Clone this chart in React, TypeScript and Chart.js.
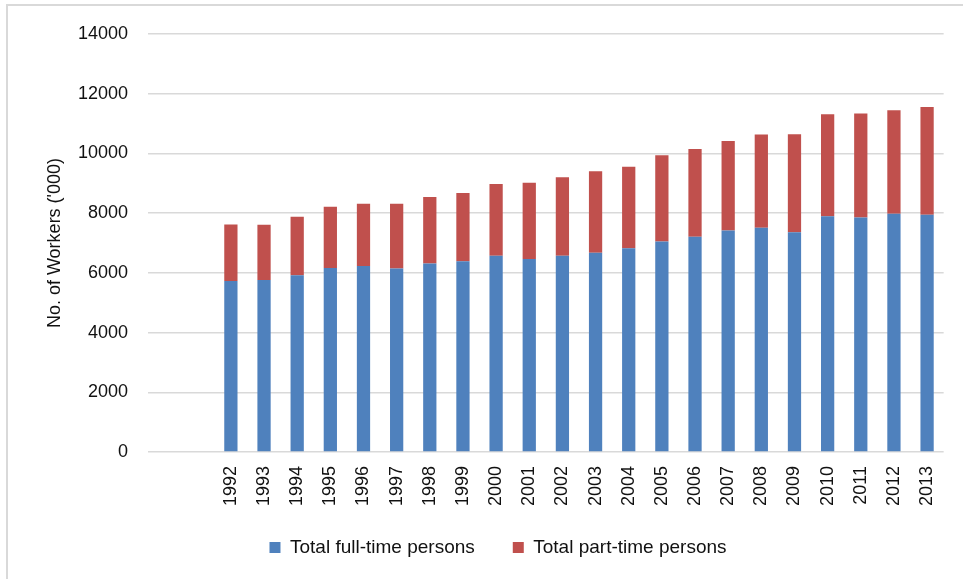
import React, { useEffect, useRef } from "react";
import { Chart, registerables } from "chart.js";

Chart.register(...registerables);

const categories = [
  "", "",
  "1992", "1993", "1994", "1995", "1996", "1997", "1998", "1999", "2000", "2001",
  "2002", "2003", "2004", "2005", "2006", "2007", "2008", "2009", "2010", "2011",
  "2012", "2013",
];

const fullTime = [
  null, null,
  5730, 5763, 5918, 6166, 6233, 6143, 6311, 6389, 6569, 6468,
  6569, 6670, 6826, 7049, 7206, 7418, 7509, 7362, 7899, 7855,
  7979, 7946,
];

const partTime = [
  null, null,
  1890, 1847, 1960, 2048, 2082, 2172, 2226, 2282, 2404, 2552,
  2629, 2729, 2730, 2887, 2942, 2999, 3122, 3279, 3414, 3481,
  3468, 3612,
];

const seriesNames = ["Total full-time persons", "Total part-time persons"];
const yTicks = { min: 0, max: 14000, step: 2000 };
const yTitle = "No. of Workers ('000)";

const FONT = "'Liberation Sans', Arial, sans-serif";

const legendShift = {
  id: "legendShift",
  afterLayout(chart: any) {
    const lg = chart.legend;
    if (lg) {
      lg.top -= 10;
      lg.bottom -= 10;
    }
  },
};

export default function App() {
  const ref = useRef<HTMLCanvasElement | null>(null);

  useEffect(() => {
    if (!ref.current) return;
    const chart = new Chart(ref.current, {
      type: "bar",
      data: {
        labels: categories,
        datasets: [
          {
            label: seriesNames[0],
            data: fullTime,
            backgroundColor: "#4F81BD",
            borderWidth: 0,
            categoryPercentage: 0.4,
            barPercentage: 1,
          },
          {
            label: seriesNames[1],
            data: partTime,
            backgroundColor: "#C0504D",
            borderWidth: 0,
            categoryPercentage: 0.4,
            barPercentage: 1,
          },
        ],
      },
      plugins: [legendShift],
      options: {
        responsive: false,
        animation: false,
        devicePixelRatio: 1,
        layout: { padding: { left: 48, right: 15, top: 34, bottom: 2 } },
        plugins: {
          tooltip: { enabled: false },
          legend: {
            position: "bottom",
            labels: {
              boxWidth: 11,
              boxHeight: 11,
              padding: 38,
              color: "#111",
              font: { family: FONT, size: 19 },
            },
          },
        },
        scales: {
          x: {
            stacked: true,
            grid: { display: false, drawTicks: false },
            border: { display: false },
            ticks: {
              minRotation: 90,
              maxRotation: 90,
              autoSkip: false,
              padding: 14,
              color: "#111",
              font: { family: FONT, size: 18 },
            },
            afterFit: (s: any) => {
              s.height = 58;
            },
          },
          y: {
            stacked: true,
            min: yTicks.min,
            max: yTicks.max,
            border: { display: false },
            grid: { color: "#d9d9d9", lineWidth: 1.5, drawTicks: false },
            ticks: {
              stepSize: yTicks.step,
              padding: 20,
              color: "#111",
              font: { family: FONT, size: 18 },
              callback: (v: any) => String(v),
            },
            title: {
              display: true,
              text: yTitle,
              color: "#111",
              font: { family: FONT, size: 18 },
              padding: { top: -4, bottom: 0 },
            },
            afterFit: (s: any) => {
              s.width = 100;
            },
          },
        },
      },
    });
    return () => chart.destroy();
  }, []);

  return (
    <div style={{ position: "fixed", left: 0, top: 0, width: 963, height: 579, background: "#fff", overflow: "hidden" }}>
      <div
        style={{
          position: "absolute",
          left: 6,
          top: 4,
          width: 1000,
          height: 1000,
          borderLeft: "2px solid #d9d9d9",
          borderTop: "2px solid #d9d9d9",
        }}
      />
      <canvas ref={ref} width={963} height={579} style={{ position: "absolute", left: 0, top: 0 }} />
    </div>
  );
}
